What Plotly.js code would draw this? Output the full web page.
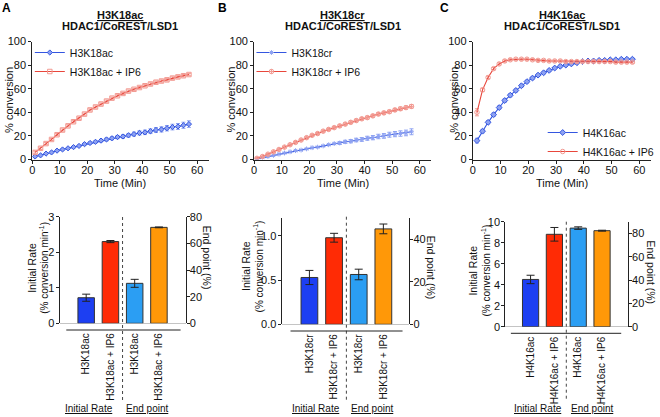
<!DOCTYPE html>
<html><head><meta charset="utf-8">
<script src="https://cdn.plot.ly/plotly-3.0.1.min.js"></script>
<style>html,body{margin:0;padding:0;background:#fff}#chart{width:660px;height:417px}</style>
</head><body><div id="chart"></div>
<script>
// ---------- data ----------
const timeAB = [1,3,5,7,9,11,13,15,17,19,21,23,25,27,29,31,33,35,37,39,41,43,45,47,49,51,53,55,57];
const timeC = [1.5,3.5,5.5,7.5,9.5,11.5,13.5,15.5,17.5,19.5,21.5,23.5,25.5,27.5,29.5,31.5,33.5,35.5,37.5,39.5,41.5,43.5,45.5,47.5,49.5,51.5,53.5,55.5,57.5];

const aBlue = [2.5,3.5,5,6,7.5,8.5,9.5,10.5,11.5,13,14,15,16,17,18,19,19.5,20.5,21.5,22.5,23,24,25,25.5,26.5,27.5,28,29,30];
const aBlueErr = [0.4,0.4,0.5,0.5,0.5,0.6,0.6,0.7,0.7,0.8,0.9,1,1.1,1.2,1.3,1.4,1.5,1.6,1.7,1.8,1.9,2,2.1,2.2,2.3,2.4,2.5,2.6,2.8];
const aRed = [6,9.5,13.5,17,21,25,28.5,32,35,38.5,42,44.5,47,49.5,52,54,56,58,59.5,61,62.5,64,65.5,66.5,67.5,69,70,71,72];
const aRedErr = [1.2,1,1,0.9,0.9,0.9,0.9,0.9,0.9,0.9,0.9,0.9,0.9,0.9,0.9,0.9,0.9,0.9,0.9,0.9,0.9,1,1,1,1,1,1,1,1];

const bBlue = [0.5,1.5,2.5,3.5,4.5,5.5,6.5,7.5,8,9,10,10.5,11.5,12.5,13.5,14,15,15.5,16.5,17,18,18.5,19.5,20,21,21.5,22,22.5,23.5];
const bBlueErr = [0.3,0.3,0.3,0.3,0.3,0.3,0.3,0.3,0.4,0.4,0.4,0.4,0.5,0.5,0.5,1.2,1.3,1.4,1.5,1.6,1.7,1.8,1.9,2,2.1,2.2,2.3,2.4,2.5];
const bRed = [1,2.5,4.5,6.5,8.5,10.5,12.5,14.5,16.5,18.5,20.5,22,24,25.5,27,28.5,30,31.5,33,34.5,35.5,37,38.5,39.5,40.5,42,43,44,45];
const bRedErr = [0.5,0.5,0.6,0.6,0.6,0.7,0.7,0.7,0.8,0.8,0.8,0.9,0.9,0.9,1,1,1,1.1,1.1,1.1,1.2,1.2,1.2,1.3,1.3,1.3,1.4,1.4,1.5];

const cBlue = [16,24,31.5,38,44,50,54.5,58.5,62.5,66,69,71.5,73.5,75.5,77.5,79,80,81,82,83,83.5,83.5,84,84,84.5,84.5,85,85,85];
const cBlueErr = [2,1.5,1.5,1.5,1.5,1.5,1.4,1.3,1.2,1.1,1,1,0.9,0.9,0.8,0.8,0.8,0.8,0.8,0.8,0.8,0.8,0.8,0.8,0.8,0.8,0.8,0.8,0.8];
const cRed = [40,59,69.5,77,81,83.5,84.5,85,85,85,84.5,84,84,83.5,83.5,83.5,83,83,83,83,83,83,83,83,83,82.5,82.5,82.5,82.5];
const cRedErr = [3,1.5,1.2,1,1,1,0.9,0.9,0.9,0.9,0.9,0.9,0.9,0.9,0.9,0.9,0.9,0.9,0.9,0.9,0.9,0.9,0.9,0.9,0.9,0.9,0.9,0.9,0.9];

const barLabelsA = ['H3K18ac','H3K18ac + IP6','H3K18ac','H3K18ac + IP6'];
const barLabelsB = ['H3K18cr','H3K18cr + IP6','H3K18cr','H3K18cr + IP6'];
const barLabelsC = ['H4K16ac','H4K16ac + IP6','H4K16ac','H4K16ac + IP6'];
const rateA = [0.72, 2.3], rateErrA = [0.1, 0.03], endA = [30, 72], endErrA = [3, 0.3];
const rateB = [0.53, 0.98], rateErrB = [0.08, 0.05], endB = [23.5, 45], endErrB = [2.5, 2.3];
const rateC = [4.5, 8.8], rateErrC = [0.4, 0.65], endC = [84.5, 82.3], endErrC = [1.1, 0.4];
const groupLabels = ['Initial Rate', 'End point'];

// ---------- helpers ----------
const W = 660, H = 417;
const px = v => v / W;
const py = v => 1 - v / H;
const FONT = 'Liberation Sans, Arial, Helvetica, sans-serif';
const AX = '#222';
const BLUE = '#3456e0', BLUE_L = '#8ea2f2';
const RED = '#e8463b', RED_L = '#f29a92';
const barColors = ['#1d3ff2', '#ff2b05', '#2b9ef3', '#ff9808'];

const traces = [];
function curve(xa, ya, t, y, e, name, color, light, symbol, size, legend) {
  traces.push({
    type: 'scatter', mode: 'lines+markers', x: t, y: y, name: name,
    xaxis: xa, yaxis: ya, legend: legend,
    line: {color: color, width: 1.1},
    marker: {symbol: symbol, size: size, color: light, line: {color: color, width: 1}},
    error_y: {type: 'data', array: e, visible: true, color: light, thickness: 1, width: 2}
  });
}
curve('x', 'y', timeAB, aBlue, aBlueErr, 'H3K18ac', BLUE, BLUE_L, 'diamond', 4, 'legend');
curve('x', 'y', timeAB, aRed, aRedErr, 'H3K18ac + IP6', RED, RED_L, 'square-open', 4.5, 'legend');
curve('x2', 'y2', timeAB, bBlue, bBlueErr, 'H3K18cr', BLUE, BLUE_L, 'asterisk-open', 4, 'legend2');
curve('x2', 'y2', timeAB, bRed, bRedErr, 'H3K18cr + IP6', RED, RED_L, 'circle-cross-open', 4.5, 'legend2');
curve('x3', 'y3', timeC, cBlue, cBlueErr, 'H4K16ac', BLUE, BLUE_L, 'diamond', 4.5, 'legend3');
curve('x3', 'y3', timeC, cRed, cRedErr, 'H4K16ac + IP6', RED, RED_L, 'circle-open', 4.5, 'legend3');

function bars(xa, yl, yr, rate, rateErr, endp, endErr) {
  const common = {type: 'bar', width: 0.68, showlegend: false, xaxis: xa};
  traces.push(Object.assign({}, common, {x: [0, 1], y: rate, yaxis: yl,
    marker: {color: barColors.slice(0, 2), line: {color: '#333', width: 1}},
    error_y: {type: 'data', array: rateErr, visible: true, color: '#222', thickness: 1, width: 4}}));
  traces.push(Object.assign({}, common, {x: [2, 3], y: endp, yaxis: yr,
    marker: {color: barColors.slice(2, 4), line: {color: '#333', width: 1}},
    error_y: {type: 'data', array: endErr, visible: true, color: '#222', thickness: 1, width: 4}}));
}
bars('x4', 'y4', 'y5', rateA, rateErrA, endA, endErrA);
bars('x5', 'y6', 'y7', rateB, rateErrB, endB, endErrB);
bars('x6', 'y8', 'y9', rateC, rateErrC, endC, endErrC);

// ---------- layout ----------
const tf = {family: FONT, size: 11, color: '#111'};
const tfs = {family: FONT, size: 10.5, color: '#111'};
function topX(x0, x1, anchor) {
  return {domain: [px(x0), px(x1)], anchor: anchor, range: [0, 64.2], dtick: 10, tick0: 0,
    showline: true, linecolor: AX, linewidth: 1, ticks: 'outside', ticklen: 3, tickcolor: AX,
    ticklabelstandoff: -3,
    showgrid: false, zeroline: false, tickfont: tf, fixedrange: true};
}
function topY(anchor) {
  return {domain: [py(159.5), py(41.5)], anchor: anchor, range: [0, 100], dtick: 20,
    showline: true, linecolor: AX, linewidth: 1, ticks: 'outside', ticklen: 3, tickcolor: AX,
    showgrid: false, zeroline: false, tickfont: tf, fixedrange: true};
}
function botX(x0, x1, anchor, first, step, labels) {
  const r0 = (x0 - first) / step, r1 = (x1 - first) / step;
  return {domain: [px(x0), px(x1)], anchor: anchor, range: [r0, r1],
    tickvals: [0, 1, 2, 3], ticktext: labels, tickangle: -90, ticks: '', ticklabelstandoff: 7,
    showline: false, showgrid: false, zeroline: false,
    tickfont: {family: FONT, size: 10, color: '#111'}, fixedrange: true};
}
function botYL(y0, y1, anchor, range, dtick, fmt) {
  return {domain: [py(y0), py(y1)], anchor: anchor, range: range, dtick: dtick, tickformat: fmt,
    showline: true, linecolor: AX, linewidth: 1, ticks: 'outside', ticklen: 3, tickcolor: AX,
    ticklabelstandoff: -1,
    showgrid: false, zeroline: true, zerolinecolor: '#c4c4c4', zerolinewidth: 1,
    tickfont: tf, fixedrange: true};
}
function botYR(overlay, anchor, range, dtick) {
  return {overlaying: overlay, side: 'right', anchor: anchor, range: range, dtick: dtick,
    showline: true, linecolor: AX, linewidth: 1, ticks: 'outside', ticklen: 3, tickcolor: AX,
    ticklabelstandoff: -2,
    showgrid: false, zeroline: false, tickfont: tf, fixedrange: true};
}

const layout = {
  width: W, height: H, margin: {l: 0, r: 0, t: 0, b: 0},
  paper_bgcolor: '#fff', plot_bgcolor: 'rgba(0,0,0,0)',
  font: {family: FONT, size: 11, color: '#111'},
  xaxis: topX(32.5, 210, 'y'), yaxis: topY('x'),
  xaxis2: topX(255.7, 434, 'y2'), yaxis2: topY('x2'),
  xaxis3: topX(475.7, 655, 'y3'), yaxis3: topY('x3'),
  xaxis4: botX(60, 186.7, 'y4', 86.7, 24.4, barLabelsA),
  yaxis4: botYL(323.3, 216.7, 'x4', [0, 3], 1, ''),
  yaxis5: botYR('y4', 'x4', [0, 80], 20),
  xaxis5: botX(283.3, 411.7, 'y6', 311.3, 24.8, barLabelsB),
  yaxis6: botYL(324.3, 218.3, 'x5', [0, 1.2], 0.5, '.1f'),
  yaxis7: botYR('y6', 'x5', [0, 50], 20),
  xaxis6: botX(508.3, 631.7, 'y8', 533.8, 23.97, barLabelsC),
  yaxis8: botYL(326.7, 221.7, 'x6', [0, 10], 2, ''),
  yaxis9: botYR('y8', 'x6', [0, 90], 20),
  legend: {x: px(30), y: py(38), xanchor: 'left', yanchor: 'top', bgcolor: 'rgba(0,0,0,0)', font: tfs, itemwidth: 30},
  legend2: {x: px(253), y: py(38), xanchor: 'left', yanchor: 'top', bgcolor: 'rgba(0,0,0,0)', font: tfs, itemwidth: 30},
  legend3: {x: px(546), y: py(118), xanchor: 'left', yanchor: 'top', bgcolor: 'rgba(0,0,0,0)', font: tfs, itemwidth: 30},
  annotations: [],
  shapes: []
};

const ann = layout.annotations;
function A(x, y, text, opts) {
  ann.push(Object.assign({xref: 'paper', yref: 'paper', x: px(x), y: py(y), text: text,
    showarrow: false, xanchor: 'center', yanchor: 'middle', font: tf}, opts || {}));
}
const f10 = {family: FONT, size: 10, color: '#111'};
// panel letters
A(7, 8, '<b>A</b>', {font: {family: FONT, size: 12, color: '#000'}});
A(224, 8, '<b>B</b>', {font: {family: FONT, size: 12, color: '#000'}});
A(447, 8, '<b>C</b>', {font: {family: FONT, size: 12, color: '#000'}});
// titles
const titles = [['H3K18ac', 121], ['H3K18cr', 345], ['H4K16ac', 565]];
titles.forEach(([t, x]) => {
  A(x, 15, '<b><u>' + t + '</u></b>', {font: {family: FONT, size: 11, color: '#111'}});
  A(x, 26, '<b>HDAC1/CoREST/LSD1</b>', {font: {family: FONT, size: 11, color: '#111'}});
});
// top axis titles
[[9, 121], [232, 345], [456.5, 565]].forEach(([yx, cx]) => {
  A(yx, 100, '% conversion', {textangle: -90});
  A(cx, 183, 'Time (Min)');
});
// bottom axis titles
[[32, 44, 268, 208.5, 258], [247.5, 260, 266, 434, 268], [475.5, 488.5, 271, 654.5, 272]].forEach(([a, b, yc, r, ry]) => {
  A(a, yc, 'Initial Rate', {textangle: -90, font: tfs});
  A(b, yc, '(% conversion min<sup>-1</sup>)', {textangle: -90, font: f10});
  A(r, ry, 'End point (%)', {textangle: 90, font: tfs});
});
// group labels
[[90, 148], [318.3, 374], [541, 596]].forEach(([g1, g2]) => {
  A(g1, 408, '<u>' + groupLabels[0] + '</u>', {font: f10});
  A(g2, 408, '<u>' + groupLabels[1] + '</u>', {font: f10});
});

// separators and lowered category axis lines
const sh = layout.shapes;
[['x4', 217, 402, 66.7, 181.7, 330], ['x5', 216.7, 400, 292.3, 405, 331], ['x6', 221.7, 400, 514, 625, 333.3]].forEach(([xa, y0, y1, l0, l1, ly]) => {
  sh.push({type: 'line', xref: xa, yref: 'paper', x0: 1.5, x1: 1.5, y0: py(y0), y1: py(y1),
    line: {color: '#444', width: 1, dash: 'dot'}});
  sh.push({type: 'line', xref: 'paper', yref: 'paper', x0: px(l0), x1: px(l1), y0: py(ly), y1: py(ly),
    line: {color: '#222', width: 1}});
});

Plotly.newPlot('chart', traces, layout, {staticPlot: true, displayModeBar: false});
</script></body></html>
